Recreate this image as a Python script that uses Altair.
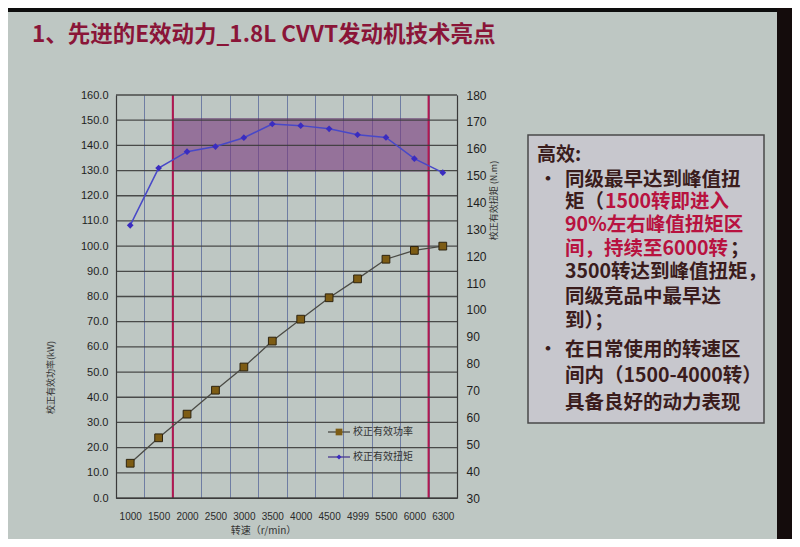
import altair as alt
import pandas as pd

# ---------------- data ----------------
rpm_labels = ["1000", "1500", "2000", "2500", "3000", "3500",
              "4000", "4500", "4999", "5500", "6000", "6300"]
power_kw = [13.8, 23.9, 33.3, 42.8, 52.0, 62.3, 71.0, 79.5, 87.0, 94.8, 98.3, 100.0]
torque_nm = [131.5, 152.8, 158.9, 160.8, 164.1, 169.2, 168.6, 167.4, 165.2, 164.2, 156.3, 151.1]
zone_rpm = ["2000", "6300"]          # zone edges (left edge of these categories)
zone_torque = [151.7, 171.2]         # shaded torque band
left_ticks = list(range(0, 161, 10))
right_ticks = list(range(30, 181, 10))

title_text = "1、先进的E效动力_1.8L CVVT发动机技术亮点"
power_name = "校正有效功率"
torque_name = "校正有效扭矩"
y_left_title = "校正有效功率(kW)"
y_right_title = "校正有效扭矩 (N.m)"
x_title = "转速（r/min）"

box_heading = "高效:"
box_lines = [
    [("同级最早达到峰值扭", "d")],
    [("矩（", "d"), ("1500转即进入", "r")],
    [("90%左右峰值扭矩区", "r")],
    [("间，持续至6000转", "r"), ("；", "d")],
    [("3500转达到峰值扭矩，", "d")],
    [("同级竞品中最早达", "d")],
    [("到）；", "d")],
    [("在日常使用的转速区", "d")],
    [("间内（1500-4000转）", "d")],
    [("具备良好的动力表现", "d")],
]

# ---------------- layout / style ----------------
W, H = 341, 403
CJK = "Noto Sans CJK SC"
LAT = "Liberation Sans"
DARK = "#3a1c1c"
RED = "#b8123f"

df = pd.DataFrame({"rpm": rpm_labels, "power": power_kw, "torque": torque_nm})
zone_df = pd.DataFrame({"x0": [zone_rpm[0]], "x1": [zone_rpm[1]],
                        "t0": [zone_torque[0]], "t1": [zone_torque[1]]})
rule_df = pd.DataFrame({"rpm": zone_rpm})
grid_df = pd.DataFrame({"gv": [float(v) for v in left_ticks]})

x_scale = alt.Scale(domain=rpm_labels, paddingInner=0, paddingOuter=0)
x_axis = alt.Axis(title=x_title, grid=True, tickBand="extent", ticks=False, zindex=0,
                  labelAngle=0, labelPadding=13, labelFont=LAT, labelFontSize=10,
                  labelColor="#2a2a2a", gridColor="#6f7da3", gridWidth=1,
                  domainColor="#3a3a3a", domainWidth=1.2,
                  titleFont=CJK, titleFontSize=10, titleFontWeight="normal",
                  titleColor="#333333", titleX=147, titleY=32, titleBaseline="middle")

left_scale = alt.Scale(domain=[0, 160], nice=False, zero=False)
right_scale = alt.Scale(domain=[30, 180], nice=False, zero=False)

left_axis = alt.Axis(values=left_ticks, format=".1f", title=y_left_title,
                     grid=False, ticks=False, zindex=0,
                     labelPadding=8, labelFont=LAT, labelFontSize=11, labelColor="#1e1e1e",
                     domainColor="#3a3a3a", domainWidth=1.2,
                     titleFont=CJK, titleFontSize=9, titleFontWeight="normal",
                     titleColor="#333333", titleAngle=270, titleX=-66, titleY=282,
                     titleBaseline="middle")
right_axis = alt.Axis(orient="right", values=right_ticks, format="d",
                      title=y_right_title, grid=False, ticks=False, zindex=0,
                      labelPadding=9, labelFont=LAT, labelFontSize=12, labelColor="#1e1e1e",
                      domainColor="#3a3a3a", domainWidth=1.2,
                      titleFont=CJK, titleFontSize=9, titleFontWeight="normal",
                      titleColor="#333333", titleAngle=270, titleX=36, titleY=105,
                      titleBaseline="middle")


def X(field, **kw):
    return alt.X(f"{field}:O", scale=x_scale, axis=x_axis, **kw)


one = alt.Data(values=[{}])

# dark surroundings of the projected slide (photo edges)
edge_top = alt.Chart(one).mark_rect(color="#0d0d0d").encode(
    x=alt.value(-110), x2=alt.value(680), y=alt.value(-90), y2=alt.value(-83))
edge_right = alt.Chart(one).mark_rect(color="#140c0c").encode(
    x=alt.value(661), x2=alt.value(680), y=alt.value(-90), y2=alt.value(460))

# shaded zone
zone = alt.Chart(zone_df).mark_rect(color="#7a3a80", opacity=0.6,
                                    stroke="#5a2a62", strokeWidth=1).encode(
    x=X("x0", bandPosition=0),
    x2=alt.X2("x1", bandPosition=0),
    y=alt.Y("t0:Q", scale=right_scale, axis=None),
    y2="t1",
)

# horizontal grid lines of the kW axis (drawn after the zone so nothing hides them)
hgrid = alt.Chart(grid_df).mark_rule(color="#3c3c3c", strokeWidth=1.3, opacity=0.9).encode(
    y=alt.Y("gv:Q", scale=left_scale, axis=None))

rules = alt.Chart(rule_df).mark_rule(color="#b3164f", strokeWidth=2).encode(
    x=X("rpm", bandPosition=0)
)

power_line = alt.Chart(df).mark_line(color="#4b4b45", strokeWidth=1.3).encode(
    x=X("rpm"), y=alt.Y("power:Q", scale=left_scale, axis=left_axis))
power_pts = alt.Chart(df).mark_point(shape="square", filled=True, size=60, color="#7d5c14",
                                     stroke="#2e2410", strokeWidth=1, opacity=1).encode(
    x=X("rpm"), y=alt.Y("power:Q", scale=left_scale, axis=None))

torque_line = alt.Chart(df).mark_line(color="#4848c8", strokeWidth=1.5).encode(
    x=X("rpm"), y=alt.Y("torque:Q", scale=right_scale, axis=right_axis))
torque_pts = alt.Chart(df).mark_point(shape="diamond", filled=True, size=45, color="#3a2cc0",
                                      opacity=1).encode(
    x=X("rpm"), y=alt.Y("torque:Q", scale=right_scale, axis=None))


def text(t, x, y, color, size, weight="normal", font=CJK, align="left"):
    return alt.Chart(one).mark_text(text=t, font=font, fontSize=size, fontWeight=weight,
                                    color=color, align=align, baseline="middle").encode(
        x=alt.value(x), y=alt.value(y))


annos = []
# title
annos.append(text(title_text, -84, -60, "#8a1538", 22.5, "bold"))

# legend (inside plot)
for yy, name, shape, fill, lc, sz in [(337, power_name, "square", "#7d5c14", "#4b4b45", 45),
                                      (362, torque_name, "diamond", "#3a2cc0", "#4a3a90", 25)]:
    annos.append(alt.Chart(one).mark_rule(color=lc, strokeWidth=1.3).encode(
        x=alt.value(212), x2=alt.value(234), y=alt.value(yy)))
    annos.append(alt.Chart(one).mark_point(shape=shape, filled=True, size=sz, color=fill,
                                           opacity=1).encode(x=alt.value(223), y=alt.value(yy)))
    annos.append(text(name, 237, yy, "#333333", 10))

# text box
annos.append(alt.Chart(one).mark_rect(color="#c7c7cd", stroke="#4a4a4a", strokeWidth=1.5).encode(
    x=alt.value(412), x2=alt.value(648), y=alt.value(40), y2=alt.value(328)))
annos.append(text(box_heading, 421, 60, DARK, 19, "bold"))
annos.append(text("•", 423, 85, DARK, 18, "bold"))
annos.append(text("•", 423, 255, DARK, 18, "bold"))
line_y = [85, 107, 130, 154, 177, 202, 226, 255, 281, 308]
seg_x = {(1, 1): 489, (3, 1): 614}
for i, segs in enumerate(box_lines):
    for j, (t, c) in enumerate(segs):
        xx = seg_x.get((i, j), 449)
        annos.append(text(t, xx, line_y[i], RED if c == "r" else DARK, 19.5, "bold"))

chart = alt.layer(edge_top, edge_right, zone, rules, hgrid, power_line, power_pts,
                  torque_line, torque_pts, *annos).resolve_scale(
    y="independent"
).properties(
    width=W, height=H,
    padding={"left": 108, "top": 87, "right": 335, "bottom": 41},
    autosize=alt.AutoSizeParams(type="none"),
).configure(background="#bec7c3").configure_view(strokeWidth=0)

chart.save("out.html", embed_options={"renderer": "svg", "actions": False})
